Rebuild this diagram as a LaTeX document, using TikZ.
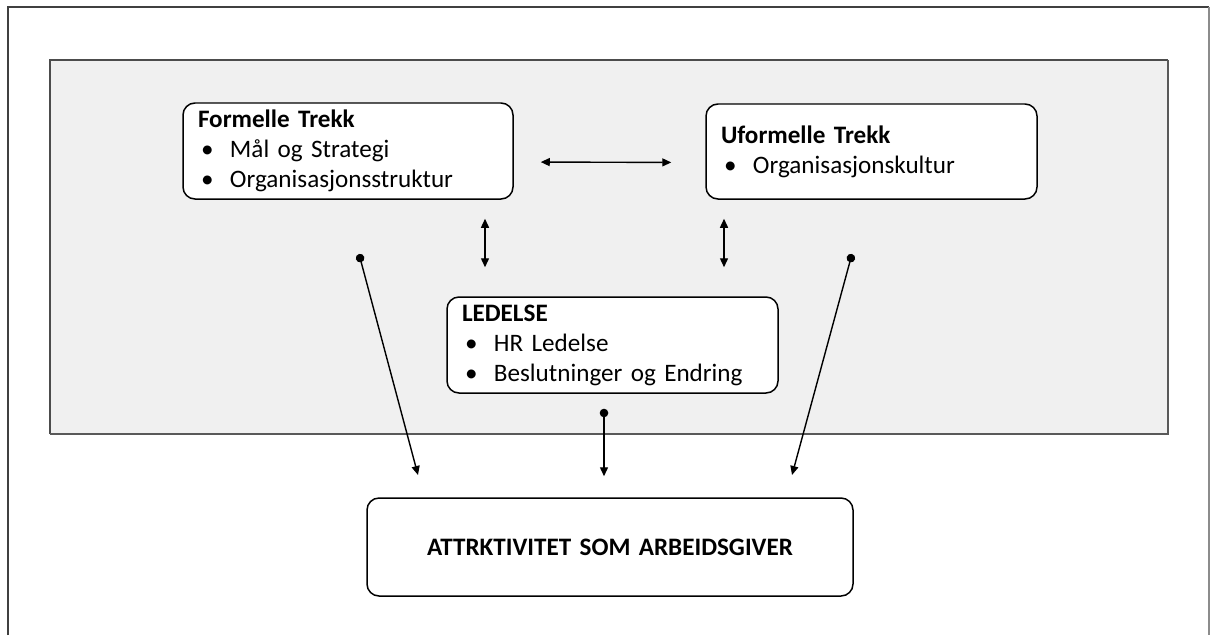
\documentclass[tikz,border=0pt]{standalone}
\usepackage{fontspec}
\setmainfont[WordSpace=0.85]{Carlito}
\usetikzlibrary{arrows.meta}

\newcommand{\punkt}[1]{\hspace*{0.06cm}\makebox[0.58cm][l]{\textbullet}#1}

\begin{document}
\begin{tikzpicture}[
  boks/.style={draw, rounded corners=0.24cm, line width=0.85pt, fill=white,
    align=left, inner xsep=0.3cm, inner ysep=0pt,
    font=\fontsize{14.3}{17.1}\selectfont},
  dobbel/.style={line width=0.8pt,
    {Triangle[length=0.18cm,width=0.16cm]}-{Triangle[length=0.18cm,width=0.16cm]}},
  punktpil/.style={line width=0.8pt,
    {Circle[length=0.17cm]}-{Triangle[length=0.18cm,width=0.16cm]}}
]
\useasboundingbox (0,0) rectangle (24.2,-12.7);

% frame and panel
\draw[black!75, line width=0.7pt] (0.16,-12.7) -- (0.16,-0.14) -- (24.18,-0.14);
\draw[black!45, line width=0.7pt] (24.18,-0.14) -- (24.18,-12.7);
\fill[black!6] (1.0,-1.2) rectangle (23.36,-8.68);
\draw[black!70, line width=0.6pt] (1.0,-8.68) -- (1.0,-1.2) -- (23.36,-1.2);
\draw[black!65, line width=1.1pt] (1.0,-8.68) -- (23.36,-8.68) -- (23.36,-1.2);

\node[boks, text width=6.0cm, minimum height=1.92cm] (F1) at (6.96,-3.02)
  {\textbf{Formelle Trekk}\\ \punkt{Mål og Strategi}\\ \punkt{Organisasjonsstruktur}};
\node[boks, text width=6.02cm, minimum height=1.9cm] (F2) at (17.43,-3.03)
  {\textbf{Uformelle Trekk}\\ \punkt{Organisasjonskultur}};
\node[boks, text width=6.02cm, minimum height=1.92cm] (L1) at (12.25,-6.9)
  {\textbf{LEDELSE}\\ \punkt{HR Ledelse}\\ \punkt{Beslutninger og Endring}};
\node[boks, text width=9.12cm, minimum height=1.96cm, align=center] (A1) at (12.2,-10.94)
  {\textbf{ATTRKTIVITET SOM ARBEIDSGIVER}};

\coordinate (D1) at (7.18,-5.08);
\coordinate (P1) at (8.36,-9.5);
\coordinate (D2) at (17.04,-5.08);
\coordinate (P2) at (15.84,-9.5);

\path[dobbel] ([yshift=-0.22cm]F1.east) edge [shorten <=0.54cm, shorten >=0.68cm] ([yshift=-0.22cm]F2.west);
\path[dobbel] ([xshift=2.74cm]F1.south) edge [shorten <=0.38cm, shorten >=0.58cm] ([xshift=2.74cm]F1.south |- L1.north);
\path[dobbel] ([xshift=-2.95cm]F2.south) edge [shorten <=0.38cm, shorten >=0.58cm] ([xshift=-2.95cm]F2.south |- L1.north);
\path[punktpil] ([xshift=-0.17cm]L1.south) edge [shorten <=0.3cm, shorten >=0.42cm] ([xshift=-0.17cm]L1.south |- A1.north);

\path[punktpil] (D1) edge [] node[]{} (P1);
\path[punktpil] (D2) edge [] node[]{} (P2);

\end{tikzpicture}
\end{document}
